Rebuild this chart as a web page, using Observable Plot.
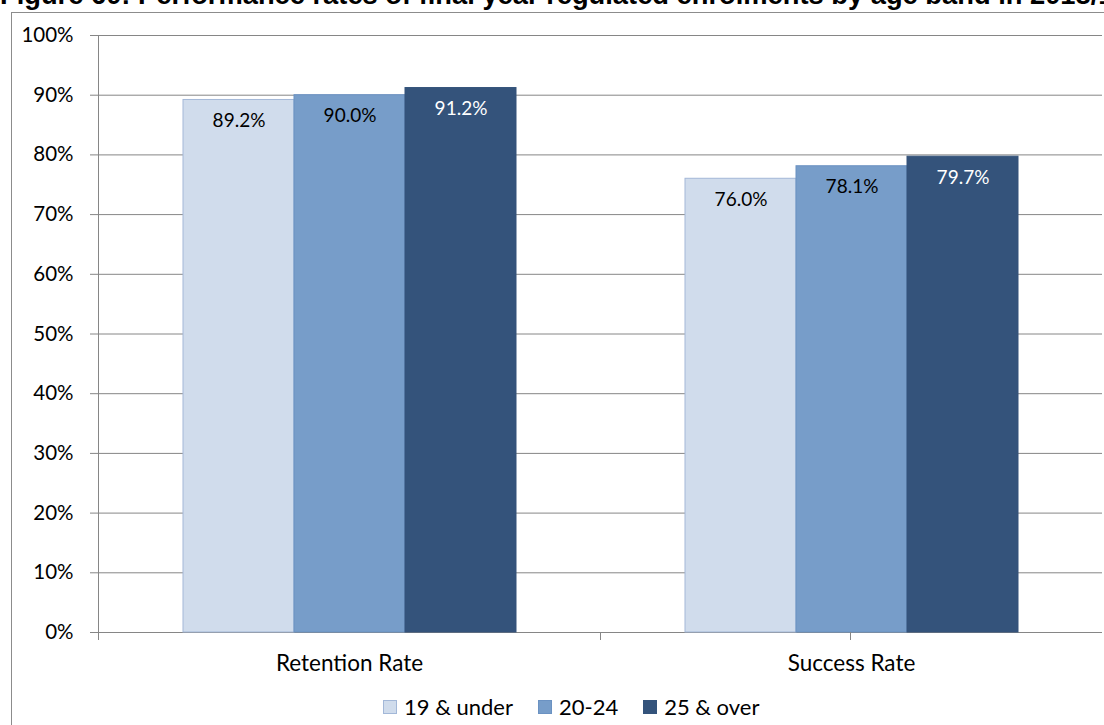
<!DOCTYPE html>
<html>
<head>
<meta charset="utf-8">
<script src="https://cdn.jsdelivr.net/npm/d3@7"></script>
<script src="https://cdn.jsdelivr.net/npm/@observablehq/plot@0.6"></script>
<style>
  html, body { margin: 0; padding: 0; background: #fff; }
  #wrap { position: relative; width: 1104px; height: 725px; overflow: hidden; background: #fff; }
  #frame { position: absolute; left: 11px; top: 12px; width: 1200px; height: 800px; border: 1px solid #8c8c8c; box-sizing: border-box; }
  #title { position: absolute; left: 0; top: -22px; white-space: nowrap; font-family: "Liberation Sans", Arial, sans-serif; font-weight: bold; font-size: 27.3px; line-height: 34px; color: #000; }
  #chart { position: absolute; left: 0; top: 0; }
  #legend { position: absolute; left: 383px; top: 693px; display: flex; align-items: center; font-family: Lato, "Open Sans", sans-serif; font-size: 22px; color: #000; }
  #legend .item { display: flex; align-items: center; margin-right: 25px; }
  #legend .sw { width: 14px; height: 14px; box-sizing: border-box; margin-right: 7px; }
</style>
</head>
<body>
<div id="wrap">
  <div id="chart"></div>
  <div id="frame"></div>
  <div id="title"></div>
  <div id="legend"></div>
</div>
<script>
const titleText = "Figure 60: Performance rates of final year regulated enrolments by age band in 2018/19";
const metrics = ["Retention Rate", "Success Rate"];
const bands = ["19 & under", "20-24", "25 & over"];
const retention = [89.2, 90.0, 91.2];
const success = [76.0, 78.1, 79.7];
const yTicks = [0, 10, 20, 30, 40, 50, 60, 70, 80, 90, 100];
const fills = ["#d0dcec", "#779dc9", "#34537b"];
const strokes = ["#a3b8d8", "#6b92c2", "#34537b"];
const labelFills = ["#000000", "#000000", "#ffffff"];

const seriesByMetric = [retention, success];
const data = metrics.flatMap((m, i) => bands.map((b, j) => ({metric: m, band: b, value: seriesByMetric[i][j]})));

document.getElementById("title").textContent = titleText;

const axisColor = "#868686";

// Rendered once per facet (in facet-local coordinates); a counter tells which facet.
let facetCall = 0;
function frameLines(index, scales, values, dimensions) {
  const i = facetCall++;
  const n = metrics.length;
  const {width, marginLeft, marginRight} = dimensions;
  const y0 = scales.y(0);
  const yTop = scales.y(100);
  const facetW = (width - marginLeft - marginRight) / n;
  const g = d3.create("svg:g").attr("stroke", axisColor).attr("stroke-width", 1);
  const xl = marginLeft + 0.5;
  if (i === 0) {
    g.append("line").attr("x1", xl).attr("x2", xl).attr("y1", yTop).attr("y2", y0 + 8);
  } else {
    g.append("line").attr("x1", xl).attr("x2", xl).attr("y1", y0).attr("y2", y0 + 8);
  }
  if (i === n - 1) {
    const xr = marginLeft + facetW - 0.5;
    g.append("line").attr("x1", xr).attr("x2", xr).attr("y1", y0).attr("y2", y0 + 8);
  }
  return g.node();
}

const barMarks = bands.map((b, j) => Plot.barY(data.filter(d => d.band === b), {
  fx: "metric", x: "band", y: "value", fill: fills[j], stroke: strokes[j], strokeWidth: 1
}));
const labelMarks = bands.map((b, j) => Plot.text(data.filter(d => d.band === b), {
  fx: "metric", x: "band", y: "value", text: d => d.value.toFixed(1) + "%",
  dy: 21, lineAnchor: "middle", fill: labelFills[j], fontSize: 19
}));

const chart = Plot.plot({
  width: 1104,
  height: 725,
  marginLeft: 98,
  marginRight: 2,
  marginTop: 35,
  marginBottom: 93,
  style: {fontFamily: "Lato, 'Open Sans', sans-serif", fontSize: "22.5px", background: "transparent", color: "#000"},
  fx: {domain: metrics, padding: 0, label: null, axis: "bottom", tickSize: 0, tickPadding: 23},
  x: {domain: bands, paddingInner: 0, paddingOuter: 0.75, axis: null},
  y: {domain: [0, 100], label: null, axis: null},
  marks: [
    Plot.gridY(yTicks, {stroke: axisColor, strokeOpacity: 1}),
    ...barMarks,
    ...labelMarks,
    Plot.axisY(yTicks, {tickFormat: d => d + "%", tickSize: 8, tickPadding: 17, stroke: axisColor, strokeOpacity: 1, fontSize: 20.5, label: null}),
    frameLines
  ]
});
document.getElementById("chart").append(chart);

const legend = document.getElementById("legend");
bands.forEach((b, j) => {
  const item = document.createElement("div");
  item.className = "item";
  const sw = document.createElement("div");
  sw.className = "sw";
  sw.style.background = fills[j];
  sw.style.border = "1px solid " + strokes[j];
  const t = document.createElement("span");
  t.textContent = b;
  item.append(sw, t);
  legend.append(item);
});
</script>
</body>
</html>
